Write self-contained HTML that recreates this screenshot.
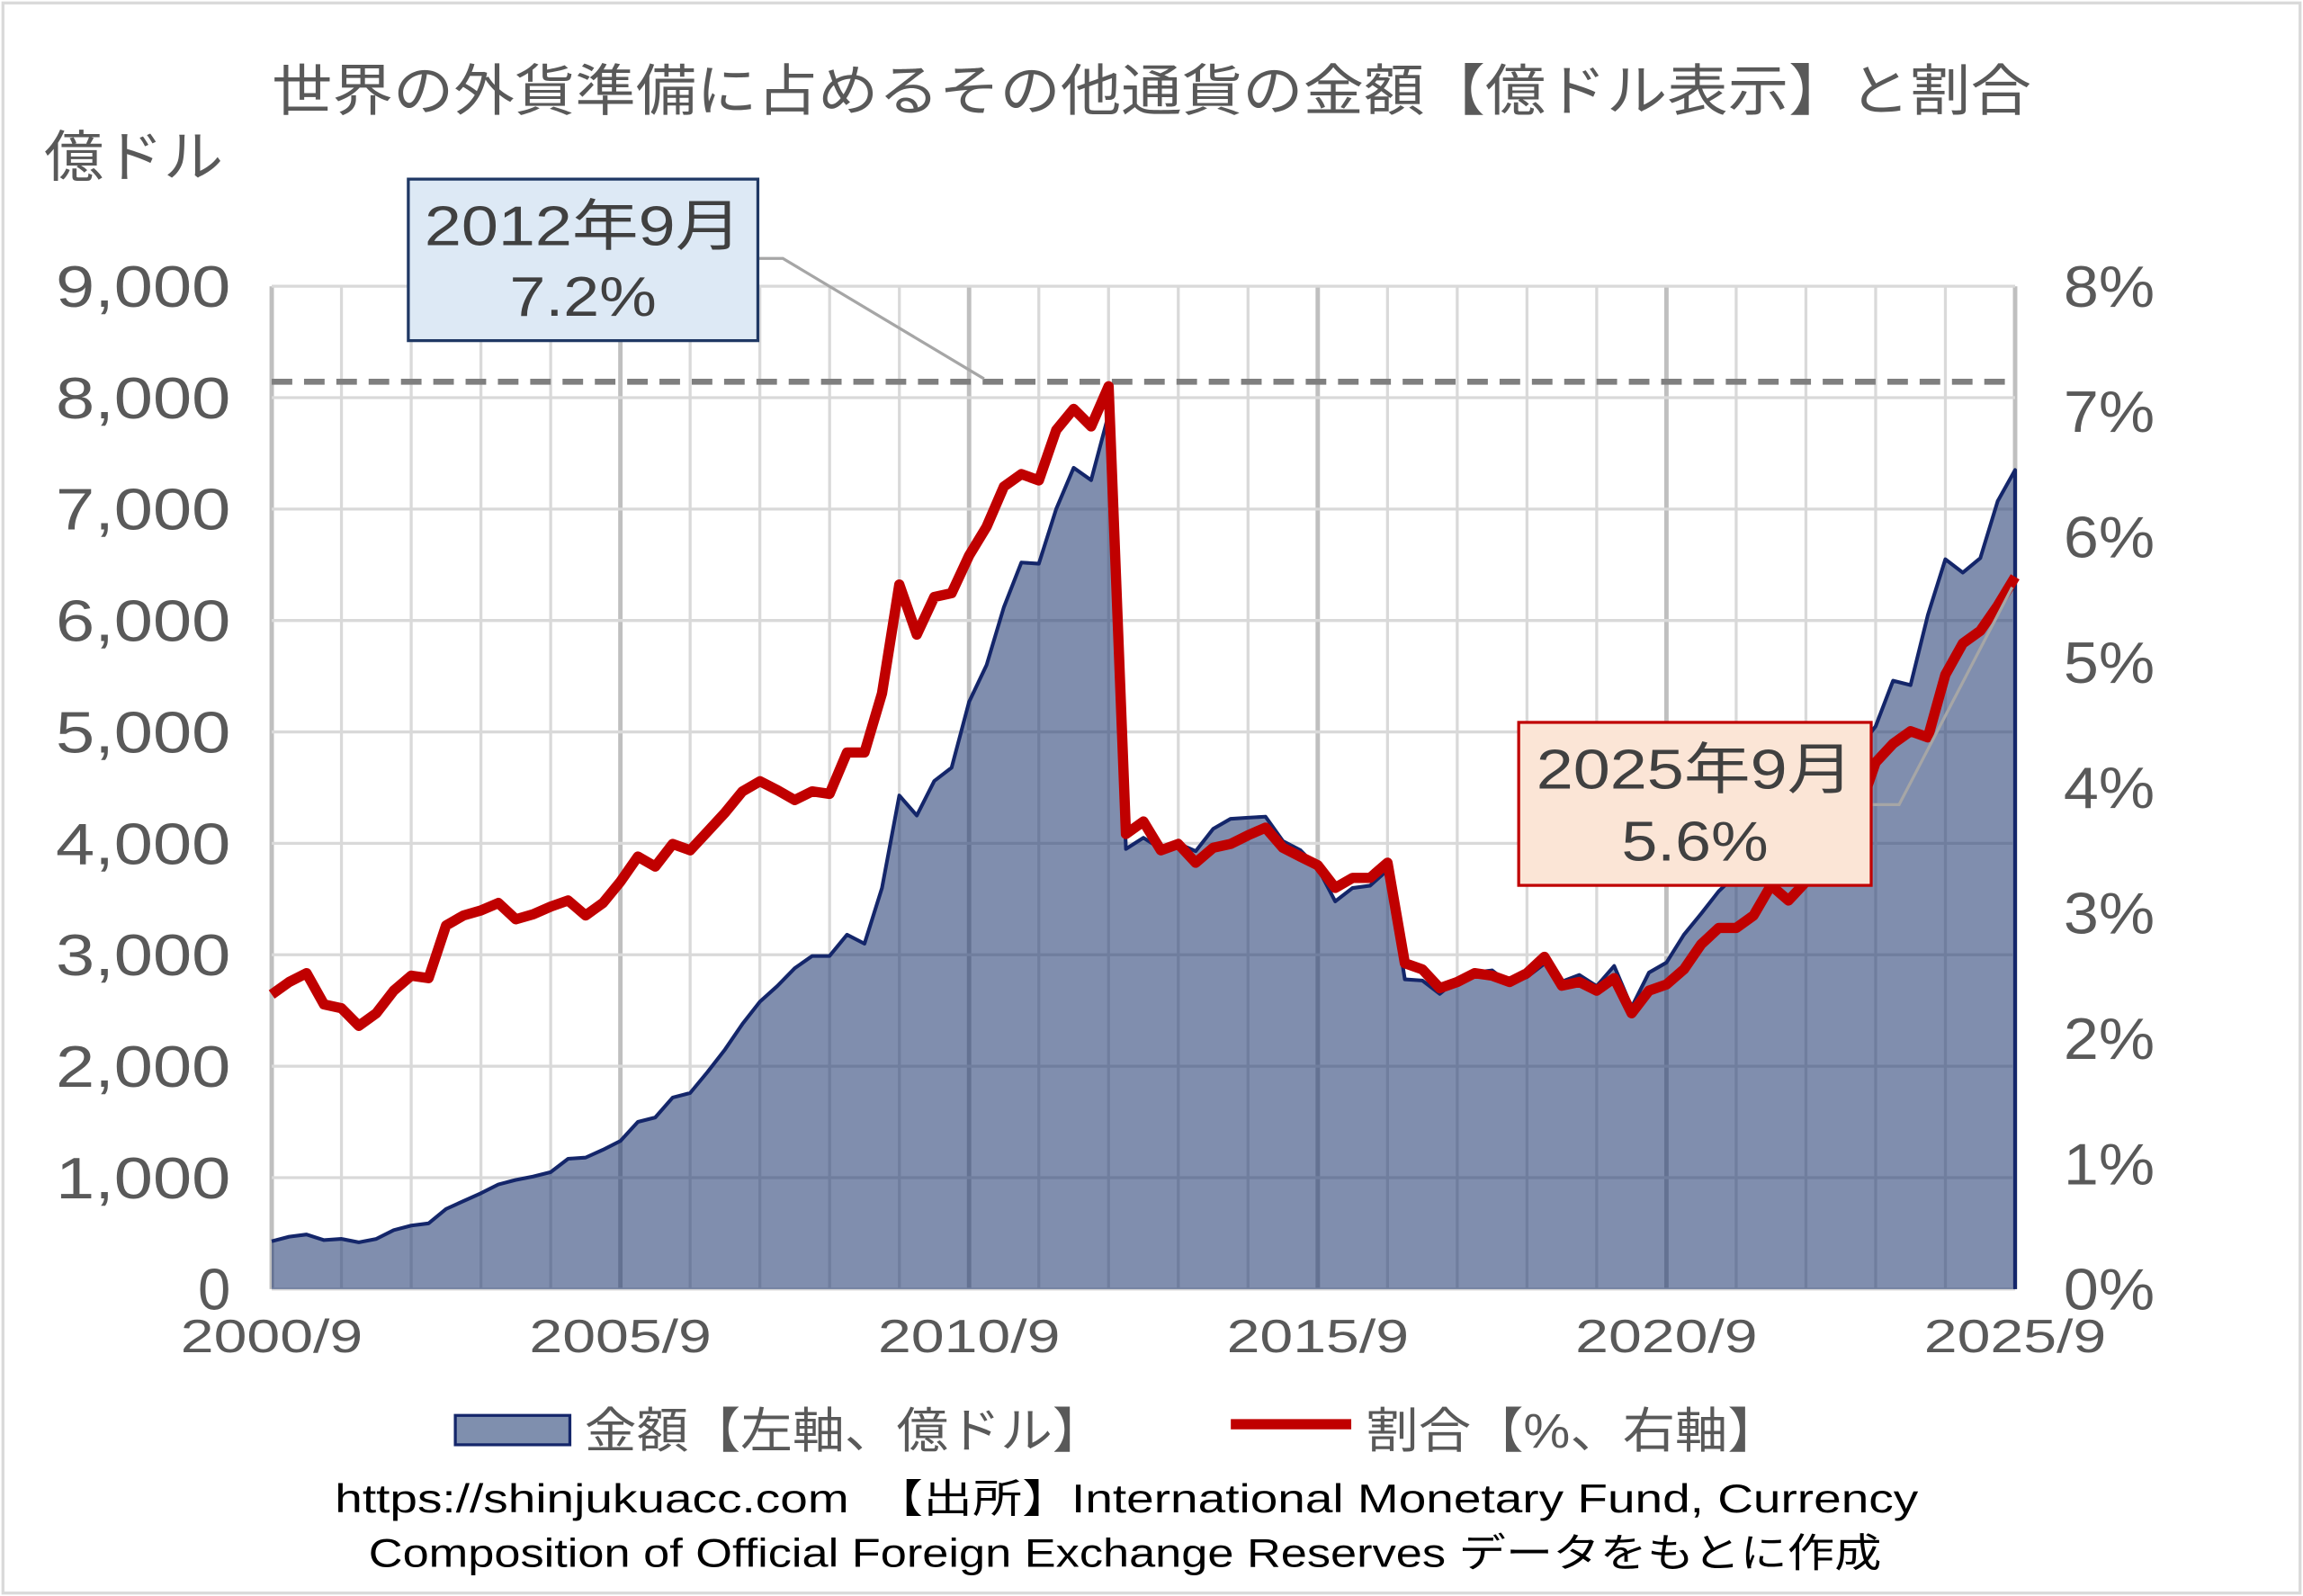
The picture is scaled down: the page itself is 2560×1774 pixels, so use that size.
<!DOCTYPE html>
<html><head><meta charset="utf-8"><style>
html,body{margin:0;padding:0;background:#fff;}
svg{display:block;}
text{font-family:"Liberation Sans","Noto Sans CJK JP",sans-serif;}
</style></head><body>
<svg id="s" width="2560" height="1774" viewBox="0 0 1568 1087" preserveAspectRatio="none" xmlns="http://www.w3.org/2000/svg">
<rect x="0" y="0" width="1568" height="1087" fill="#fff"/>
<rect x="2" y="2" width="1564" height="1083" fill="none" stroke="#d9d9d9" stroke-width="2"/>
<g id="grid"></g>
<path id="area" fill="#1f3870" fill-opacity="0.57" stroke="none"/>
<path id="aline" fill="none" stroke="#14266a" stroke-width="2.5" stroke-linejoin="round"/>
<line x1="185" y1="260" x2="1372" y2="260" stroke="#7f7f7f" stroke-width="4" stroke-dasharray="14,8"/>
<path id="red" fill="none" stroke="#c00000" stroke-width="7" stroke-linejoin="round"/>
<polyline points="516,176 533,176 670,258" fill="none" stroke="#a6a6a6" stroke-width="2"/>
<polyline points="1274,548 1293,548 1370,400" fill="none" stroke="#a6a6a6" stroke-width="2"/>
<rect x="278" y="122" width="238" height="110" fill="#dde9f5" stroke="#1f3864" stroke-width="2"/>
<text x="289" y="167" font-size="38" fill="#404040" textLength="216" lengthAdjust="spacingAndGlyphs">2012年9月</text>
<text x="347" y="215" font-size="38" fill="#404040" textLength="100" lengthAdjust="spacingAndGlyphs">7.2%</text>
<rect x="1034" y="492" width="240" height="111" fill="#fbe5d6" stroke="#c00000" stroke-width="2"/>
<text x="1046" y="537" font-size="38" fill="#404040" textLength="216" lengthAdjust="spacingAndGlyphs">2025年9月</text>
<text x="1104" y="586" font-size="38" fill="#404040" textLength="100" lengthAdjust="spacingAndGlyphs">5.6%</text>
<text x="185" y="75" font-size="38" fill="#595959" textLength="1198" lengthAdjust="spacingAndGlyphs">世界の外貨準備に占めるその他通貨の金額【億ドル表示】と割合</text>
<text x="30" y="120" font-size="38" fill="#595959" textLength="122" lengthAdjust="spacingAndGlyphs">億ドル</text>
<g id="labels" fill="#595959"></g>
<rect x="310" y="964" width="78" height="20" fill="#7f8fae" stroke="#14266a" stroke-width="2"/>
<text x="398" y="986" font-size="33" fill="#595959" textLength="354" lengthAdjust="spacingAndGlyphs">金額【左軸、億ドル】</text>
<line x1="838" y1="970" x2="920" y2="970" stroke="#c00000" stroke-width="7"/>
<text x="930" y="986" font-size="33" fill="#595959" textLength="282" lengthAdjust="spacingAndGlyphs">割合【%、右軸】</text>
<text x="228" y="1030" font-size="27" fill="#000" textLength="1078" lengthAdjust="spacingAndGlyphs">https://shinjukuacc.com　【出所】International Monetary Fund, Currency</text>
<text x="251" y="1067" font-size="27" fill="#000" textLength="1030" lengthAdjust="spacingAndGlyphs">Composition of Official Foreign Exchange Reserves データをもとに作成</text>
</svg>
<script>
var X0=185,X1=1372,Y0=878;
var ys=75.9, rs=85.4;
var amt=[430,470,490,440,450,420,450,530,570,590,720,790,860,940,980,1010,1050,1170,1180,1250,1330,1500,1540,1720,1760,1950,2150,2380,2580,2720,2880,2990,2990,3180,3100,3600,4430,4250,4560,4680,5270,5600,6120,6520,6510,7000,7370,7260,7850,3950,4050,3950,4000,3930,4130,4220,4230,4240,4020,3940,3780,3480,3600,3620,3760,2780,2770,2650,2780,2840,2860,2740,2800,2920,2760,2820,2720,2900,2530,2840,2930,3180,3370,3570,3720,3870,4000,4150,4300,4450,4650,4850,5050,5460,5420,6050,6550,6430,6560,7070,7350];
var pct=[2.35,2.45,2.52,2.27,2.24,2.1,2.2,2.38,2.5,2.48,2.9,2.98,3.02,3.08,2.95,2.99,3.05,3.1,2.98,3.08,3.25,3.45,3.37,3.55,3.5,3.65,3.8,3.97,4.05,3.98,3.9,3.97,3.95,4.28,4.28,4.75,5.62,5.22,5.52,5.55,5.85,6.08,6.4,6.5,6.45,6.85,7.02,6.88,7.2,3.63,3.73,3.5,3.55,3.4,3.52,3.55,3.62,3.68,3.52,3.45,3.38,3.2,3.28,3.28,3.4,2.6,2.55,2.4,2.45,2.52,2.5,2.45,2.52,2.65,2.42,2.45,2.38,2.48,2.2,2.38,2.43,2.55,2.75,2.88,2.88,2.98,3.22,3.1,3.25,3.4,3.6,3.8,4.2,4.35,4.45,4.4,4.9,5.15,5.25,5.45,5.68];
var st=(X1-X0)/100,ns="http://www.w3.org/2000/svg";
function el(p,t,a,tx){var e=document.createElementNS(ns,t);for(var k in a)e.setAttribute(k,a[k]);if(tx)e.textContent=tx;document.getElementById(p).appendChild(e);}
for(var i=0;i<=25;i++){var x=X0+i*(X1-X0)/25;el("grid","line",{x1:x,y1:195,x2:x,y2:Y0,stroke:i%5==0?"#bfbfbf":"#d9d9d9","stroke-width":i%5==0?3:2});}
for(var j=0;j<=9;j++){var y=Y0-j*ys;el("grid","line",{x1:X0,y1:y,x2:X1,y2:y,stroke:"#d9d9d9","stroke-width":2});
if(j==0)el("labels","text",{x:157,y:y+14,"font-size":40,"text-anchor":"end"},"0");
else el("labels","text",{x:38,y:y+14,"font-size":40,textLength:119,lengthAdjust:"spacingAndGlyphs"},j+",000");}
for(var k=0;k<=8;k++){var y=Y0-k*rs;el("labels","text",{x:1405,y:y+14,"font-size":40,textLength:62,lengthAdjust:"spacingAndGlyphs"},k+"%");}
["2000/9","2005/9","2010/9","2015/9","2020/9","2025/9"].forEach(function(t,i){el("labels","text",{x:X0+i*(X1-X0)/5-62,y:921,"font-size":32,textLength:124,lengthAdjust:"spacingAndGlyphs"},t);});
var a="",r="";
for(var i=0;i<=100;i++){var x=(X0+i*st).toFixed(1);a+=(i?"L":"M")+x+","+(Y0-amt[i]*ys/1000).toFixed(1);r+=(i?"L":"M")+x+","+(Y0-pct[i]*rs).toFixed(1);}
document.getElementById("aline").setAttribute("d",a+"L"+X1+","+Y0);
document.getElementById("area").setAttribute("d",a+"L"+X1+","+Y0+"L"+X0+","+Y0+"Z");
document.getElementById("red").setAttribute("d",r);
</script>
</body></html>
